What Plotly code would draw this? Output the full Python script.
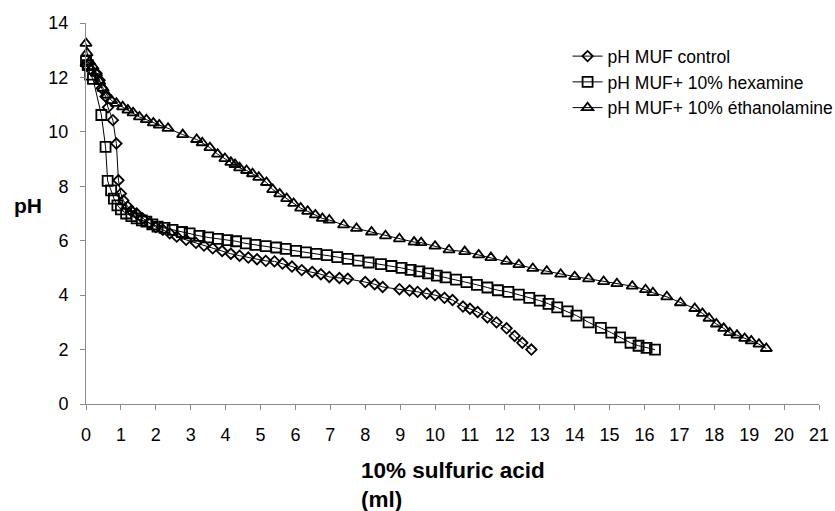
import plotly.graph_objects as go

# Titration of MUF resins with 10% sulfuric acid: volume added (ml) vs pH
acid_control = [0, 0.15, 0.3, 0.39, 0.45, 0.56, 0.63, 0.77, 0.87, 0.93,
                1.0, 1.07, 1.2, 1.3, 1.45, 1.62, 1.82, 2.0, 2.2, 2.4,
                2.6, 2.87, 3.15, 3.38, 3.63, 3.9, 4.15, 4.4, 4.65, 4.9,
                5.15, 5.4, 5.63, 5.9, 6.18, 6.48, 6.73, 6.97, 7.26, 7.5,
                8.0, 8.27, 8.5, 8.98, 9.27, 9.5, 9.76, 10.0, 10.27, 10.5,
                10.8, 11.0, 11.22, 11.5, 11.76, 12.05, 12.28, 12.5, 12.76]
ph_control = [12.45, 12.27, 12.15, 11.9, 11.6, 11.3, 10.9, 10.43, 9.57, 8.22,
              7.73, 7.48, 7.25, 7.1, 7.0, 6.82, 6.64, 6.5, 6.4, 6.27,
              6.15, 6.03, 5.92, 5.82, 5.72, 5.62, 5.52, 5.45, 5.38, 5.32,
              5.26, 5.24, 5.16, 5.05, 4.92, 4.85, 4.77, 4.67, 4.63, 4.6,
              4.48, 4.4, 4.3, 4.22, 4.17, 4.12, 4.06, 4.0, 3.9, 3.82,
              3.58, 3.5, 3.38, 3.18, 3.0, 2.78, 2.5, 2.25, 2.0]

acid_hexamine = [0, 0.05, 0.12, 0.2, 0.44, 0.56, 0.62, 0.72, 0.8, 0.9,
                 1.0, 1.15, 1.3, 1.45, 1.6, 1.73, 1.9, 2.05, 2.25, 2.48,
                 2.75, 2.97, 3.25, 3.5, 3.78, 4.05, 4.3, 4.58, 4.85, 5.15,
                 5.45, 5.72, 6.02, 6.3, 6.6, 6.9, 7.2, 7.5, 7.8, 8.1,
                 8.45, 8.75, 9.04, 9.3, 9.55, 9.8, 10.05, 10.3, 10.6, 10.9,
                 11.2, 11.5, 11.8, 12.1, 12.4, 12.7, 13.0, 13.25, 13.5, 13.8,
                 14.05, 14.4, 14.75, 15.05, 15.3, 15.6, 15.83, 16.06, 16.3]
ph_hexamine = [12.6, 12.45, 12.1, 11.95, 10.62, 9.45, 8.2, 7.85, 7.55, 7.3,
               7.15, 7.0, 6.9, 6.82, 6.75, 6.7, 6.6, 6.52, 6.47, 6.4,
               6.32, 6.27, 6.18, 6.12, 6.07, 6.02, 5.98, 5.9, 5.85, 5.8,
               5.75, 5.7, 5.63, 5.57, 5.52, 5.47, 5.4, 5.33, 5.27, 5.2,
               5.14, 5.07, 5.0, 4.93, 4.87, 4.8, 4.72, 4.65, 4.57, 4.48,
               4.38, 4.28, 4.18, 4.12, 4.02, 3.9, 3.8, 3.68, 3.55, 3.4,
               3.25, 3.0, 2.8, 2.62, 2.45, 2.25, 2.14, 2.06, 2.0]

acid_ethanolamine = [0, 0.03, 0.1, 0.2, 0.3, 0.39, 0.49, 0.6, 0.73, 0.87,
                     1.05, 1.2, 1.35, 1.53, 1.73, 1.93, 2.1, 2.35, 2.77, 3.17,
                     3.33, 3.55, 3.77, 3.98, 4.15, 4.27, 4.4, 4.6, 4.77, 4.95,
                     5.17, 5.35, 5.55, 5.75, 5.95, 6.15, 6.35, 6.57, 6.77, 6.97,
                     7.38, 7.75, 8.18, 8.58, 8.98, 9.4, 9.6, 10.0, 10.4, 10.85,
                     11.25, 11.6, 12.05, 12.4, 12.8, 13.2, 13.6, 14.0, 14.4, 14.83,
                     15.21, 15.65, 16.03, 16.24, 16.64, 17.03, 17.44, 17.66, 17.85, 18.06,
                     18.27, 18.44, 18.65, 18.87, 19.06, 19.28, 19.49]
ph_ethanolamine = [13.25, 12.9, 12.57, 12.4, 12.15, 11.85, 11.6, 11.35, 11.15, 11.05,
                   10.92, 10.8, 10.7, 10.55, 10.45, 10.33, 10.25, 10.13, 9.9, 9.72,
                   9.6, 9.42, 9.18, 9.02, 8.88, 8.8, 8.68, 8.58, 8.46, 8.33,
                   8.14, 7.88, 7.72, 7.55, 7.37, 7.2, 7.08, 6.95, 6.82, 6.76,
                   6.58, 6.45, 6.32, 6.18, 6.07, 5.95, 5.93, 5.8, 5.66, 5.6,
                   5.48, 5.38, 5.24, 5.12, 4.98, 4.88, 4.77, 4.68, 4.6, 4.5,
                   4.42, 4.33, 4.2, 4.09, 3.94, 3.72, 3.51, 3.33, 3.15, 2.94,
                   2.78, 2.62, 2.53, 2.41, 2.32, 2.2, 2.04]

series_names = ["pH MUF control", "pH MUF+ 10% hexamine", "pH MUF+ 10% éthanolamine"]
x_ticks = list(range(0, 22))
y_ticks = list(range(0, 15, 2))

FONT = "Liberation Sans, Arial, sans-serif"

fig = go.Figure()
series = [
    (acid_control, ph_control, "diamond-open", 8),
    (acid_hexamine, ph_hexamine, "square-open", 10),
    (acid_ethanolamine, ph_ethanolamine, "triangle-up-open", 10),
]
for i, (xs, ys, sym, size) in enumerate(series):
    fig.add_trace(go.Scatter(
        x=xs, y=ys, mode="lines+markers", name=series_names[i],
        legendgroup=f"g{i}",
        line=dict(color="black", width=1),
        marker=dict(symbol=sym, size=size, color="black",
                    line=dict(color="black", width=1.8)),
        cliponaxis=False,
    ))

fig.update_layout(
    width=835, height=511, autosize=False,
    margin=dict(l=86, r=16, t=23, b=107, autoexpand=False),
    plot_bgcolor="white", paper_bgcolor="white",
    font=dict(family=FONT, color="black", size=17),
    showlegend=True,
    legend=dict(x=0.657, y=0.96, xanchor="left", yanchor="top",
                bgcolor="rgba(0,0,0,0)", font=dict(size=17.5),
                traceorder="grouped", tracegroupgap=0),
    xaxis=dict(range=[0, 21], tickvals=x_ticks, ticktext=[str(v) for v in x_ticks],
               showgrid=False, zeroline=False, showline=True, linecolor="#8a8a8a",
               linewidth=1, ticks="outside", ticklen=5, tickcolor="#8a8a8a",
               ticklabelstandoff=9, tickfont=dict(size=18)),
    yaxis=dict(range=[0, 14], tickvals=y_ticks, ticktext=[str(v) for v in y_ticks],
               showgrid=False, zeroline=False, showline=True, linecolor="#8a8a8a",
               linewidth=1, ticks="outside", ticklen=5, tickcolor="#8a8a8a",
               ticklabelstandoff=8, tickfont=dict(size=18)),
    annotations=[
        # horizontal y-axis label to the left of the axis
        dict(text="<b>pH</b>", xref="paper", yref="paper",
             x=-74 / 733, y=(404 - 205) / 381, xanchor="left", yanchor="middle",
             showarrow=False, font=dict(size=21)),
        dict(text="<b>10% sulfuric acid</b><br><b>(ml)</b>", align="left",
             xref="paper", yref="paper", x=0.5, y=(404 - 456) / 381,
             xanchor="center", yanchor="top",
             showarrow=False, font=dict(size=22.5)),
    ],
)

fig.write_html("out.html")
